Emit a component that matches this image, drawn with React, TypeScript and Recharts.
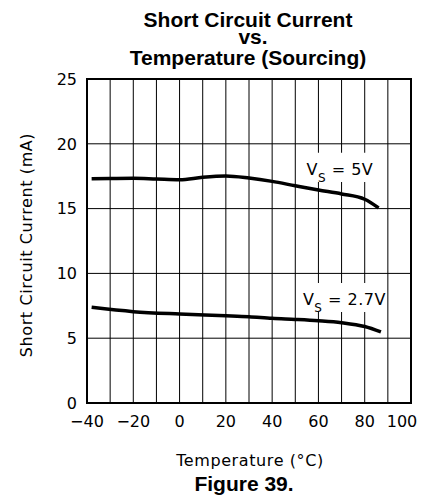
import { LineChart, Line, XAxis, YAxis, CartesianGrid, ReferenceArea } from "recharts";

// Temperature (°C) sample points
const temps5V = [-38, -30, -20, -10, 0, 10, 20, 30, 40, 50, 60, 70, 80, 86];
const current5V = [17.3, 17.32, 17.34, 17.28, 17.22, 17.42, 17.52, 17.36, 17.1, 16.76, 16.43, 16.13, 15.72, 15.05];

const temps27V = [-38, -20, 0, 20, 30, 40, 50, 60, 70, 80, 87];
const current27V = [7.38, 7.05, 6.87, 6.74, 6.66, 6.53, 6.45, 6.35, 6.2, 5.9, 5.48];

const xGridTicks = [-40, -30, -20, -10, 0, 10, 20, 30, 40, 50, 60, 70, 80, 90, 100];
const xTickLabels = [-40, -20, 0, 20, 40, 60, 80, 100];
const yTicks = [0, 5, 10, 15, 20, 25];

const titleLines = ["Short Circuit Current", "vs.", "Temperature (Sourcing)"];

const data5V = temps5V.map((t, i) => ({ t, v: current5V[i] }));
const data27V = temps27V.map((t, i) => ({ t, v: current27V[i] }));

const tickFont = "'DejaVu Sans', sans-serif";
const boldFont = "'Liberation Sans', Arial, sans-serif";

const fmt = (n: number) => (n < 0 ? "\u2212" + Math.abs(n) : String(n));

const XTick = (props: any) => {
  const { x, y, payload } = props;
  if (!xTickLabels.includes(payload.value)) return null;
  const shift = payload.value === 100 ? -9 : 0;
  return (
    <text x={x + shift} y={y + 23.5} textAnchor="middle" fontFamily={tickFont} fontSize={16} fill="#000">
      {fmt(payload.value)}
    </text>
  );
};

const YTick = (props: any) => {
  const { x, y, payload } = props;
  return (
    <text x={x - 2} y={y + 5.8} textAnchor="end" fontFamily={tickFont} fontSize={16} fill="#000">
      {payload.value}
    </text>
  );
};

// curve label "V_S = ..." drawn inside a white box
const vsLabel = (value: string, dx: number) => (props: any) => {
  const { x, y } = props.viewBox;
  return (
    <text x={x + dx} y={y + 22} fontFamily={tickFont} fontSize={16} fill="#000" letterSpacing={0.5}>
      V
      <tspan fontSize={12} dy={7}>S</tspan>
      <tspan dy={-7}>{" = " + value}</tspan>
    </text>
  );
};

export default function App() {
  return (
    <div style={{ position: "absolute", left: 0, top: 0, width: 427, height: 495, background: "#fff" }}>
      <LineChart width={427} height={495} margin={{ top: 79, right: 16, left: 0, bottom: 0 }}>
        <CartesianGrid stroke="#000" strokeWidth={1} />
        <XAxis
          type="number"
          dataKey="t"
          domain={[-40, 100]}
          ticks={xGridTicks}
          interval={0}
          height={92}
          axisLine={false}
          tickLine={false}
          tickSize={0}
          tickMargin={0}
          tick={<XTick />}
          allowDuplicatedCategory={false}
        />
        <YAxis
          type="number"
          domain={[0, 25]}
          ticks={yTicks}
          interval={0}
          width={87}
          axisLine={false}
          tickLine={false}
          tickSize={0}
          tickMargin={8}
          tick={<YTick />}
        />
        <ReferenceArea x1={-40} x2={100} y1={0} y2={25} fill="none" stroke="#000" strokeWidth={2} />
        <ReferenceArea x1={54} x2={84.5} y1={17.05} y2={19.3} fill="#fff" fillOpacity={1} stroke="none" label={vsLabel("5V", 2)} />
        <ReferenceArea x1={52} x2={89.2} y1={7.02} y2={9.26} fill="#fff" fillOpacity={1} stroke="none" label={vsLabel("2.7V", 3)} />
        <Line data={data5V} dataKey="v" type="monotone" stroke="#000" strokeWidth={3.5} dot={false} isAnimationActive={false} />
        <Line data={data27V} dataKey="v" type="monotone" stroke="#000" strokeWidth={3.5} dot={false} isAnimationActive={false} />
      </LineChart>
      <svg width={427} height={495} style={{ position: "absolute", left: 0, top: 0, pointerEvents: "none" }}>
        {titleLines.map((line, i) => (
          <text key={i} x={[248, 253, 248][i]} y={[27, 44, 64.5][i]} textAnchor="middle" fontFamily={boldFont} fontWeight="bold" fontSize={21} fill="#000">
            {line}
          </text>
        ))}
        <text transform="translate(32,245) rotate(-90)" textAnchor="middle" fontFamily={tickFont} fontSize={16} letterSpacing={0.6} fill="#000">
          Short Circuit Current (mA)
        </text>
        <text x={250} y={466} textAnchor="middle" fontFamily={tickFont} fontSize={16} letterSpacing={0.6} fill="#000">
          Temperature (°C)
        </text>
        <text x={244} y={490.5} textAnchor="middle" fontFamily={boldFont} fontWeight="bold" fontSize={21} fill="#000">
          Figure 39.
        </text>
      </svg>
    </div>
  );
}
